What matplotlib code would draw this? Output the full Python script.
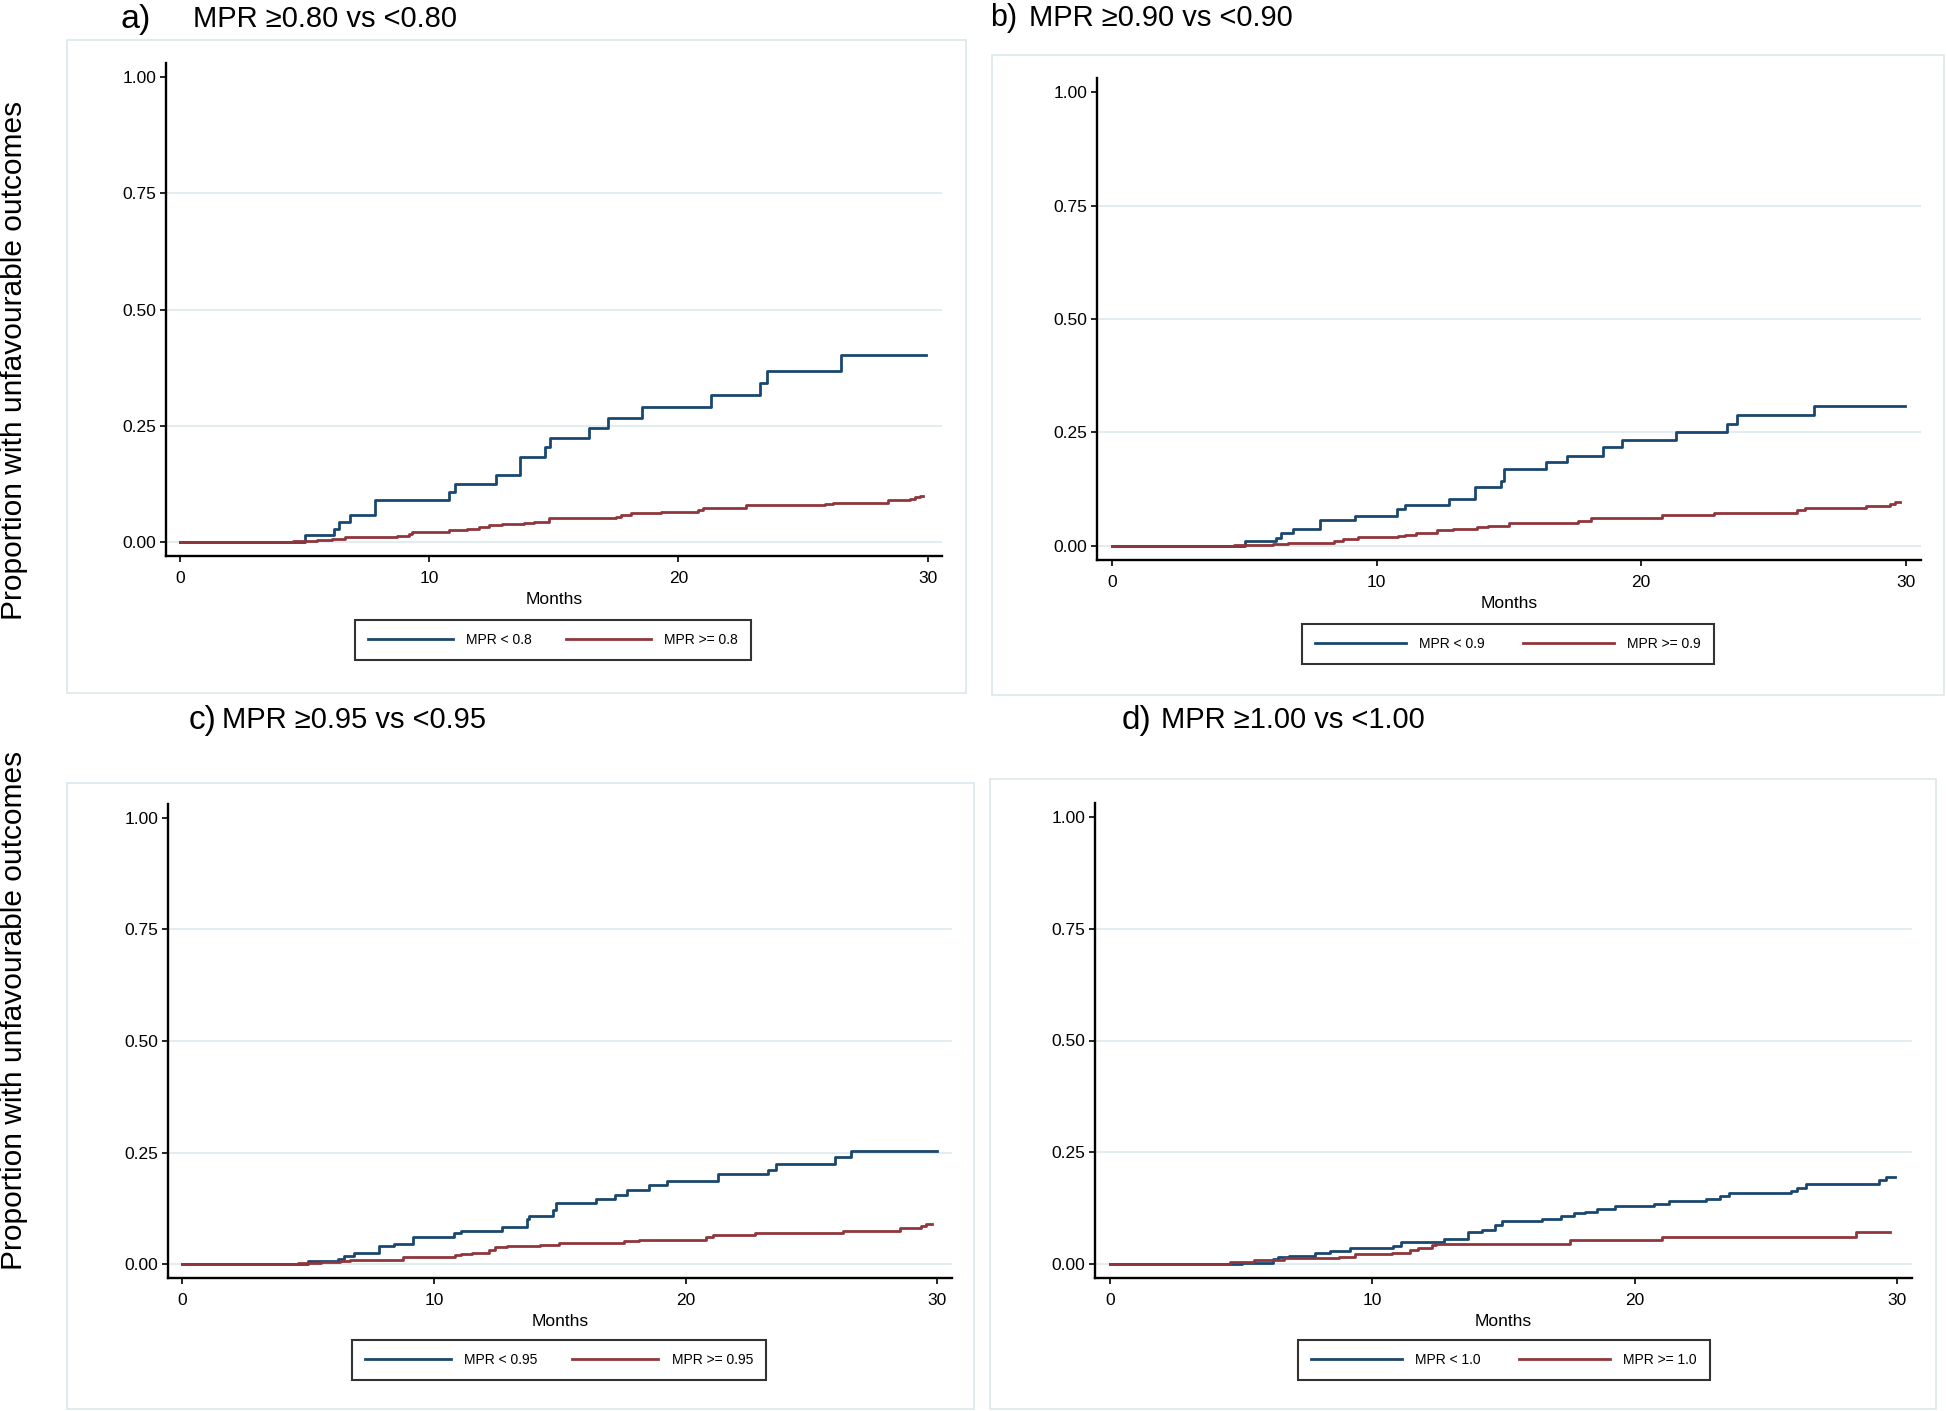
import matplotlib
matplotlib.use("Agg")
import matplotlib.pyplot as plt
from matplotlib.patches import Rectangle

plt.rcParams['font.family'] = ['Liberation Sans', 'DejaVu Sans']

W, H = 1946, 1411

BLUE = '#1a476f'
RED = '#90353b'
GRID = '#e3edf0'
FRAME = '#dae7eb'

# ---- data (months, cumulative proportion) ----
a_low_t = [0, 5.0, 6.18, 6.39, 6.81, 7.80, 10.78, 11.05, 12.69, 13.63, 14.64, 14.83,
           16.41, 17.17, 18.52, 21.29, 23.26, 23.56, 26.53, 29.95]
a_low_v = [0, 0.014, 0.027, 0.042, 0.058, 0.089, 0.107, 0.125, 0.144, 0.182, 0.203, 0.223,
           0.245, 0.267, 0.289, 0.316, 0.341, 0.367, 0.403, 0.403]
a_high_t = [0, 4.54, 5.5, 6.1, 6.6, 8.4, 8.7, 9.2, 9.3, 10.8, 11.08, 11.5, 12.0, 12.4, 12.9,
            13.8, 14.2, 14.8, 17.5, 17.7, 18.1, 19.3, 20.8, 21.0, 22.7, 25.9, 26.2, 28.4,
            29.3, 29.5, 29.7, 29.8]
a_high_v = [0, 0.001, 0.004, 0.006, 0.009, 0.011, 0.013, 0.017, 0.021, 0.024, 0.026, 0.028,
            0.031, 0.036, 0.039, 0.041, 0.043, 0.050, 0.054, 0.058, 0.061, 0.064, 0.068,
            0.072, 0.079, 0.081, 0.084, 0.089, 0.092, 0.097, 0.099, 0.099]

b_low_t = [0, 5.03, 6.18, 6.39, 6.84, 7.85, 9.17, 10.78, 11.06, 12.73, 13.72, 14.69, 14.83,
           16.42, 17.2, 18.56, 19.27, 21.3, 23.26, 23.61, 26.55, 29.96]
b_low_v = [0, 0.010, 0.018, 0.028, 0.038, 0.058, 0.067, 0.081, 0.091, 0.104, 0.129, 0.142,
           0.170, 0.186, 0.199, 0.217, 0.233, 0.251, 0.269, 0.288, 0.309, 0.309]
b_high_t = [0, 4.62, 5.6, 6.1, 6.65, 8.4, 8.73, 9.3, 10.8, 11.07, 11.5, 12.3, 12.9, 13.8,
            14.2, 15.0, 17.6, 18.1, 20.8, 22.76, 25.9, 26.2, 28.5, 29.4, 29.6, 29.8]
b_high_v = [0, 0.0015, 0.003, 0.005, 0.007, 0.011, 0.015, 0.019, 0.022, 0.025, 0.029, 0.034,
            0.038, 0.041, 0.045, 0.050, 0.055, 0.061, 0.069, 0.073, 0.079, 0.083, 0.087,
            0.092, 0.096, 0.096]

c_low_t = [0, 5.0, 6.18, 6.42, 6.83, 7.8, 8.39, 9.18, 10.8, 11.08, 12.72, 13.69, 13.79,
           14.73, 14.83, 16.45, 17.2, 17.68, 18.55, 19.26, 21.3, 23.25, 23.6, 25.95, 26.55, 29.98]
c_low_v = [0, 0.006, 0.012, 0.019, 0.026, 0.040, 0.046, 0.060, 0.069, 0.075, 0.084, 0.102,
           0.108, 0.121, 0.136, 0.146, 0.156, 0.167, 0.178, 0.187, 0.201, 0.211, 0.225,
           0.239, 0.253, 0.253]
c_high_t = [0, 4.6, 5.5, 6.28, 6.68, 8.75, 9.34, 10.82, 11.06, 11.5, 12.2, 12.44, 12.9, 14.2,
            14.97, 17.54, 18.13, 20.8, 21.1, 22.77, 26.23, 28.5, 29.33, 29.55, 29.78]
c_high_v = [0, 0.002, 0.0045, 0.007, 0.010, 0.015, 0.017, 0.020, 0.022, 0.026, 0.031, 0.038,
            0.040, 0.044, 0.047, 0.051, 0.055, 0.061, 0.066, 0.069, 0.075, 0.081, 0.086,
            0.091, 0.091]

d_low_t = [0, 5.04, 6.22, 6.42, 6.81, 7.8, 8.39, 9.17, 10.79, 11.08, 12.72, 13.66, 14.2,
           14.68, 14.94, 16.46, 17.19, 17.68, 18.13, 18.56, 19.27, 20.75, 21.32, 22.72,
           23.25, 23.6, 25.95, 26.2, 26.54, 29.31, 29.59, 29.94]
d_low_v = [0, 0.003, 0.011, 0.015, 0.019, 0.025, 0.029, 0.036, 0.041, 0.049, 0.057, 0.071,
           0.076, 0.088, 0.097, 0.101, 0.107, 0.114, 0.117, 0.123, 0.129, 0.135, 0.141,
           0.146, 0.153, 0.159, 0.164, 0.170, 0.179, 0.187, 0.194, 0.194]
d_high_t = [0, 4.59, 5.49, 6.65, 8.74, 9.33, 10.75, 11.44, 11.73, 12.26, 12.42, 17.54,
            21.04, 28.46, 29.74]
d_high_v = [0, 0.0045, 0.009, 0.0126, 0.017, 0.022, 0.026, 0.031, 0.036, 0.042, 0.045,
            0.054, 0.061, 0.071, 0.071]

panel_letters = ['a)', 'b)', 'c)', 'd)']
panel_titles = ['MPR \u22650.80 vs <0.80', 'MPR \u22650.90 vs <0.90',
                'MPR \u22650.95 vs <0.95', 'MPR \u22651.00 vs <1.00']
low_labels = ['MPR < 0.8', 'MPR < 0.9', 'MPR < 0.95', 'MPR < 1.0']
high_labels = ['MPR >= 0.8', 'MPR >= 0.9', 'MPR >= 0.95', 'MPR >= 1.0']
series = [(a_low_t, a_low_v, a_high_t, a_high_v),
          (b_low_t, b_low_v, b_high_t, b_high_v),
          (c_low_t, c_low_v, c_high_t, c_high_v),
          (d_low_t, d_low_v, d_high_t, d_high_v)]
x_ticks = [0, 10, 20, 30]
y_ticks = [0.0, 0.25, 0.5, 0.75, 1.0]

# ---- layout in pixels ----
axes_px = [(166, 942, 63, 556), (1097, 1921, 78, 560),
           (168, 952, 804, 1278), (1095, 1912, 803, 1278)]
frame_px = [(67, 966, 40, 693), (992, 1944, 55, 695),
            (67, 974, 783, 1409), (990, 1936, 779, 1409)]
letter_px = [(121, 28), (990, 26), (189, 729), (1122, 729)]
letter_size = [24.5, 22, 24, 24]
title_px = [(193, 27), (1029, 26), (222, 728), (1161, 728)]
legend_px = [(553, 640), (1508, 644), (559, 1360), (1504, 1360)]
legend_handle = [6.1, 6.5, 6.2, 6.5]
legend_colsp = [2.45, 2.8, 2.5, 2.8]


def fx(x):
    return x / W


def fy(y):
    return 1 - y / H


fig = plt.figure(figsize=(W / 100, H / 100), dpi=100)

for i in range(4):
    l, r, t, b = frame_px[i]
    fig.add_artist(Rectangle((fx(l), fy(b)), fx(r - l), (b - t) / H, transform=fig.transFigure,
                             facecolor='white', edgecolor=FRAME, linewidth=1.2, zorder=0))

    l, r, t, b = axes_px[i]
    ax = fig.add_axes([fx(l), fy(b), fx(r - l), (b - t) / H])
    lt, lv, ht, hv = series[i]
    ax.step(lt, lv, where='post', color=BLUE, linewidth=2, label=low_labels[i], zorder=3)
    ax.step(ht, hv, where='post', color=RED, linewidth=2, label=high_labels[i], zorder=4)

    for g in [0, 0.25, 0.5, 0.75]:
        ax.axhline(g, color=GRID, linewidth=1.5, zorder=1)

    ax.set_xlim(-0.57, 30.58)
    ax.set_ylim(-0.031, 1.031)
    ax.set_xticks(x_ticks)
    ax.set_yticks(y_ticks)
    ax.set_yticklabels(['%.2f' % v for v in y_ticks])
    ax.spines['top'].set_visible(False)
    ax.spines['right'].set_visible(False)
    for s in ['left', 'bottom']:
        ax.spines[s].set_linewidth(1.7)
    ax.tick_params(direction='out', length=4.5, width=1.2, labelsize=12.5, pad=2.5)
    ax.tick_params(axis='x', pad=6.5)
    ax.set_xlabel('Months', fontsize=12.5, labelpad=4)

    cx, cy = legend_px[i]
    leg = ax.legend(loc='center', bbox_to_anchor=(fx(cx), fy(cy)), bbox_transform=fig.transFigure,
                    ncol=2, fontsize=10, frameon=True, fancybox=False, edgecolor='black',
                    handlelength=legend_handle[i], handletextpad=0.95,
                    columnspacing=legend_colsp[i], borderpad=0.95, borderaxespad=0)
    leg.get_frame().set_linewidth(1.5)

    x, y = letter_px[i]
    fig.text(fx(x), fy(y), panel_letters[i], fontsize=letter_size[i], ha='left', va='baseline')
    x, y = title_px[i]
    fig.text(fx(x), fy(y), panel_titles[i], fontsize=21, ha='left', va='baseline')

ylab = 'Proportion with unfavourable outcomes'
fig.text(fx(14), fy(360), ylab, fontsize=21.5, rotation=90, ha='center', va='center')
fig.text(fx(14), fy(1010), ylab, fontsize=21.5, rotation=90, ha='center', va='center')

fig.savefig('out.png', dpi=100)
